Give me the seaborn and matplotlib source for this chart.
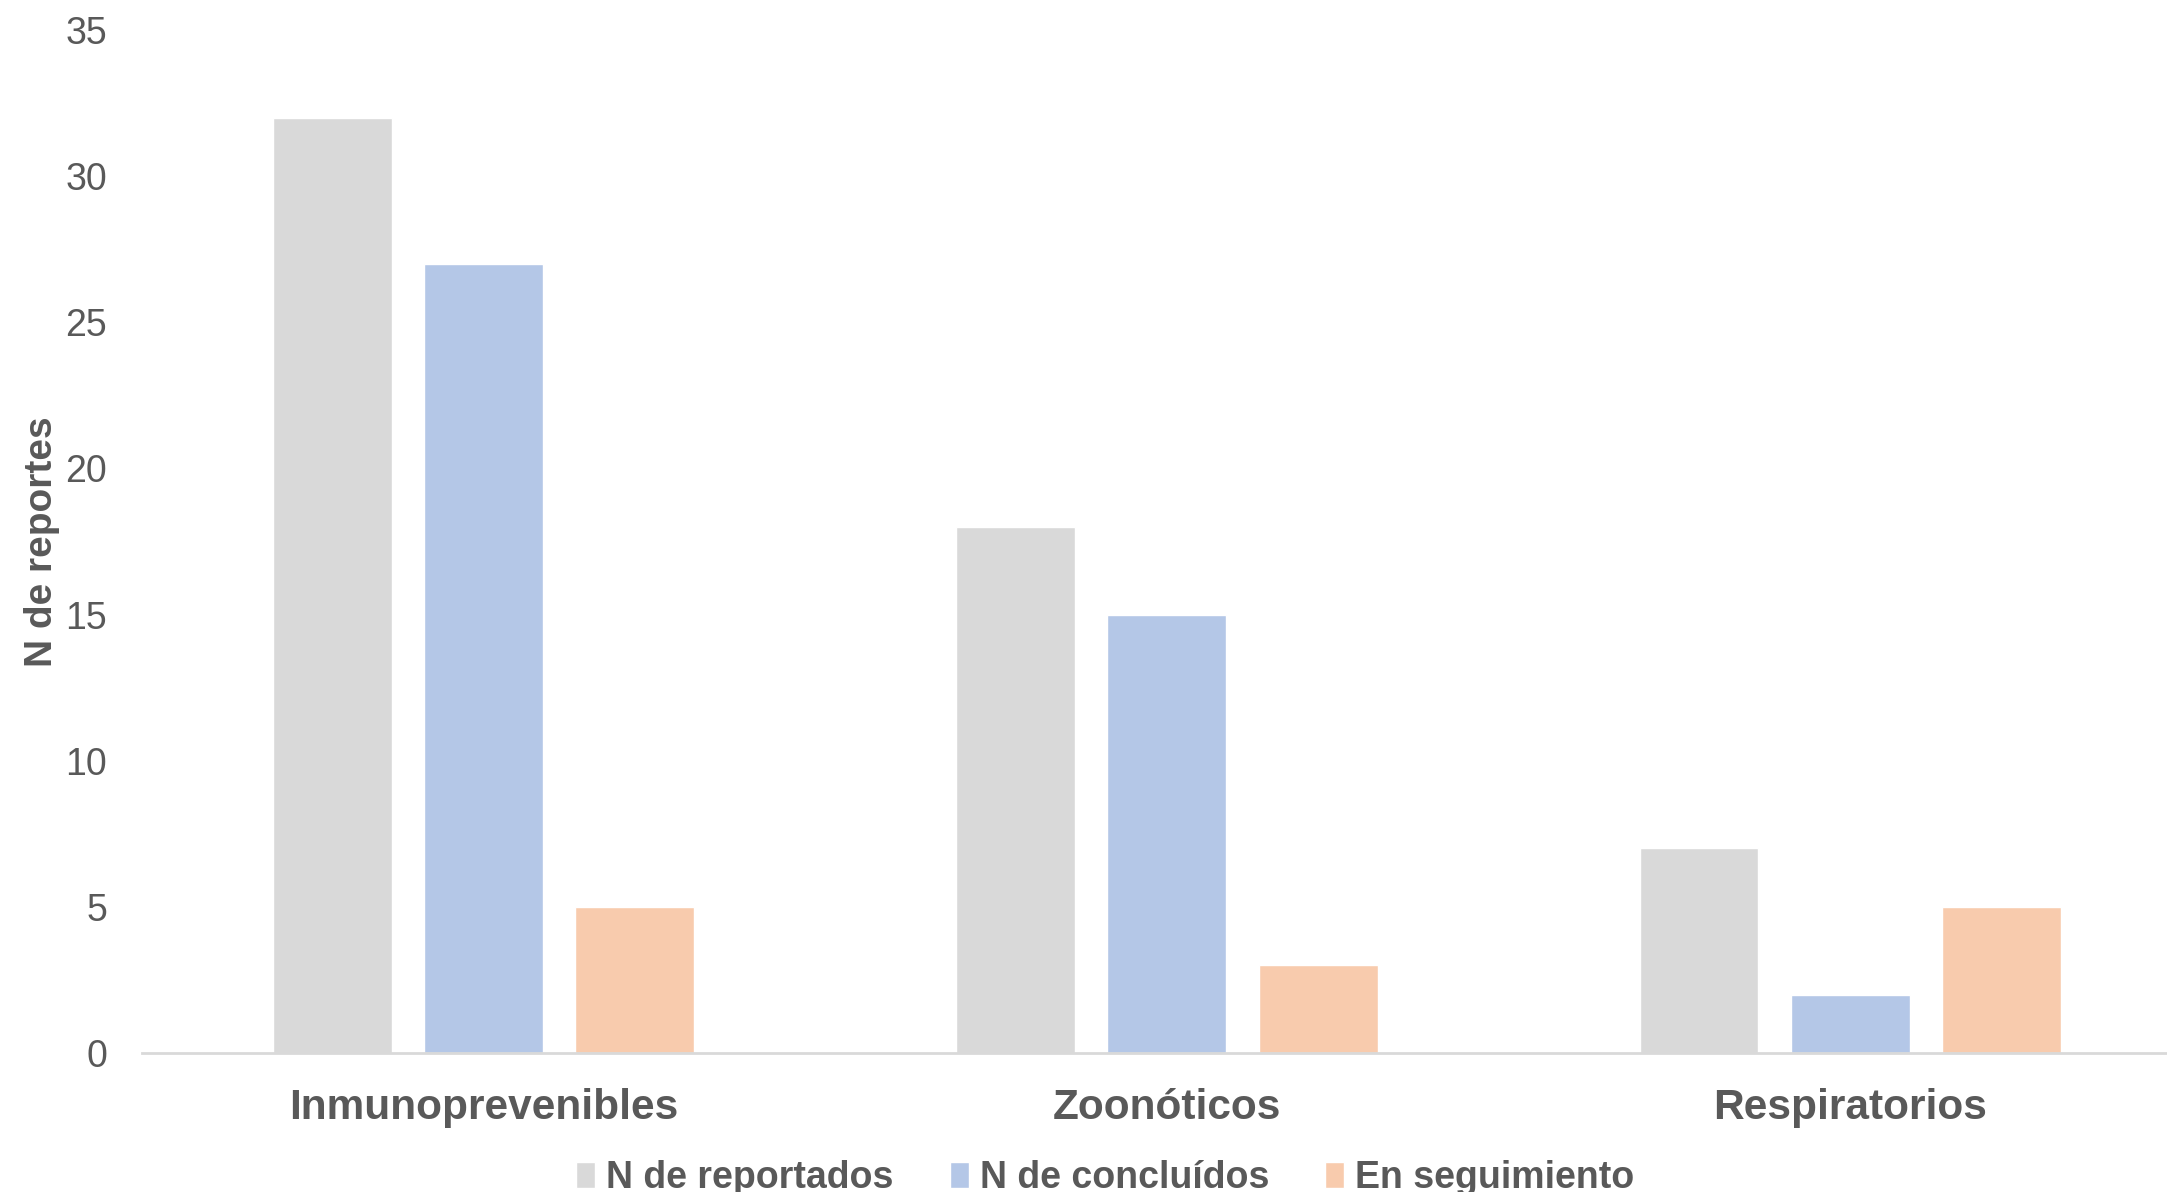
import pandas as pd
import matplotlib
matplotlib.use("Agg")
import matplotlib.pyplot as plt
import seaborn as sns

# categories and series
categorias = ['Inmunoprevenibles', 'Zoonóticos', 'Respiratorios']
series = ['N de reportados', 'N de concluídos', 'En seguimiento']
reportados = [32, 18, 7]
concluidos = [27, 15, 2]
seguimiento = [5, 3, 5]
colores = ['#D9D9D9', '#B4C7E7', '#F8CBAD']
yticks = [0, 5, 10, 15, 20, 25, 30, 35]

# long format table for seaborn
rows = []
for serie, valores in zip(series, [reportados, concluidos, seguimiento]):
    for cat, v in zip(categorias, valores):
        rows.append({'Categoria': cat, 'Serie': serie, 'Valor': v})
df = pd.DataFrame(rows)

sns.set_style('white')
plt.rcParams['font.family'] = ['Liberation Sans', 'DejaVu Sans']
texto = '#595959'

fig = plt.figure(figsize=(21.67, 11.92), dpi=100)
# the plot area runs a little past the right edge, like the original
ax = fig.add_axes([0.0655, 0.1166, 0.946, 0.8582])

sns.barplot(data=df, x='Categoria', y='Valor', hue='Serie', order=categorias,
            hue_order=series, palette=colores, width=0.664, gap=0.214,
            saturation=1, ax=ax, legend=True)

ax.set_xlim(-0.5, 2.5)
ax.set_ylim(0, 35)
ax.set_yticks(yticks)
ax.tick_params(axis='y', labelsize=27, labelcolor=texto, length=0, pad=25)
ax.tick_params(axis='x', labelsize=30.5, labelcolor=texto, length=0, pad=25)
for lbl in ax.get_xticklabels():
    lbl.set_fontweight('bold')

ax.set_xlabel('')
ax.set_ylabel('N de reportes', fontsize=28, fontweight='bold', color=texto)
ax.yaxis.set_label_coords(-0.040, 0.5)

for s in ['top', 'right', 'left']:
    ax.spines[s].set_visible(False)
ax.spines['bottom'].set_color('#D9D9D9')
ax.spines['bottom'].set_linewidth(2)

ax.legend(loc='center', bbox_to_anchor=(0.47, -0.1225), ncol=3, frameon=False,
          prop={'size': 27, 'weight': 'bold'}, labelcolor=texto,
          handlelength=0.5, handleheight=0.7, handletextpad=0.3,
          columnspacing=1.5, borderpad=0)

fig.savefig('out.png', dpi=100)
